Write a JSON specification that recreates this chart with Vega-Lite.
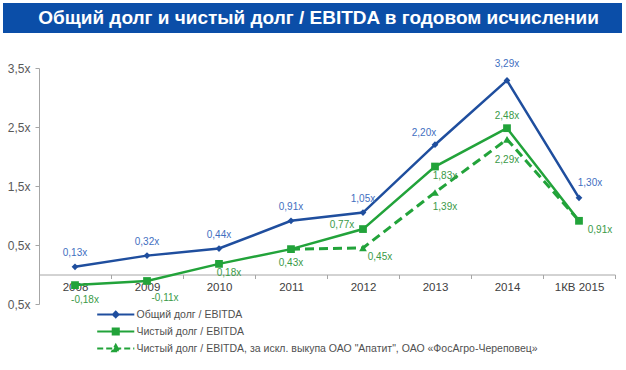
{
  "$schema": "https://vega.github.io/schema/vega-lite/v6.json",
  "padding": {"left": 3, "top": 3, "right": 4, "bottom": 0},
  "spacing": 26,
  "config": {
    "font": "Liberation Sans",
    "view": {"stroke": null},
    "locale": {"number": {"decimal": ",", "thousands": " ", "grouping": [3], "currency": ["", "x"], "minus": "-"}}
  },
  "vconcat": [
    {
      "width": 619,
      "height": 30,
      "view": {"fill": "#0b4ea8", "stroke": null},
      "data": {"values": [{"t": "Общий долг и чистый долг /  EBITDA в годовом исчислении"}]},
      "mark": {"type": "text", "color": "#ffffff", "fontSize": 19, "fontWeight": "bold", "font": "Liberation Sans", "dx": 6},
      "encoding": {"text": {"field": "t", "type": "nominal"}}
    },
    {
      "width": 612,
      "height": 236,
      "data": {"values": [
        {"year": "2008", "s": "Общий долг / EBITDA", "v": 0.13},
        {"year": "2009", "s": "Общий долг / EBITDA", "v": 0.32},
        {"year": "2010", "s": "Общий долг / EBITDA", "v": 0.44},
        {"year": "2011", "s": "Общий долг / EBITDA", "v": 0.91},
        {"year": "2012", "s": "Общий долг / EBITDA", "v": 1.05},
        {"year": "2013", "s": "Общий долг / EBITDA", "v": 2.20},
        {"year": "2014", "s": "Общий долг / EBITDA", "v": 3.29},
        {"year": "1КВ 2015", "s": "Общий долг / EBITDA", "v": 1.30},
        {"year": "2008", "s": "Чистый долг / EBITDA", "v": -0.18},
        {"year": "2009", "s": "Чистый долг / EBITDA", "v": -0.11},
        {"year": "2010", "s": "Чистый долг / EBITDA", "v": 0.18},
        {"year": "2011", "s": "Чистый долг / EBITDA", "v": 0.43},
        {"year": "2012", "s": "Чистый долг / EBITDA", "v": 0.77},
        {"year": "2013", "s": "Чистый долг / EBITDA", "v": 1.83},
        {"year": "2014", "s": "Чистый долг / EBITDA", "v": 2.48},
        {"year": "1КВ 2015", "s": "Чистый долг / EBITDA", "v": 0.91},
        {"year": "2011", "s": "Чистый долг / EBITDA, за искл. выкупа ОАО \"Апатит\", ОАО «ФосАгро-Череповец»", "v": 0.43},
        {"year": "2012", "s": "Чистый долг / EBITDA, за искл. выкупа ОАО \"Апатит\", ОАО «ФосАгро-Череповец»", "v": 0.45},
        {"year": "2013", "s": "Чистый долг / EBITDA, за искл. выкупа ОАО \"Апатит\", ОАО «ФосАгро-Череповец»", "v": 1.39},
        {"year": "2014", "s": "Чистый долг / EBITDA, за искл. выкупа ОАО \"Апатит\", ОАО «ФосАгро-Череповец»", "v": 2.29},
        {"year": "1КВ 2015", "s": "Чистый долг / EBITDA, за искл. выкупа ОАО \"Апатит\", ОАО «ФосАгро-Череповец»", "v": 0.91}
      ]},
      "encoding": {
        "x": {
          "field": "year", "type": "nominal",
          "sort": ["2008", "2009", "2010", "2011", "2012", "2013", "2014", "1КВ 2015"],
          "scale": {"type": "band", "paddingInner": 0, "paddingOuter": 0, "range": [36, 612]},
          "axis": {"title": null, "offset": -29.5, "tickBand": "extent", "domainColor": "#a6a6a6", "tickColor": "#a6a6a6", "tickSize": 4, "labelPadding": 3, "labelFontSize": 11.5, "labelColor": "#404040", "labelAngle": 0, "grid": false}
        },
        "y": {
          "field": "v", "type": "quantitative",
          "scale": {"domain": [-0.5, 3.5], "nice": false, "zero": false},
          "axis": {"title": null, "offset": -36, "values": [-0.5, 0.5, 1.5, 2.5, 3.5], "labelExpr": "replace(format(abs(datum.value), '.1f'), '.', ',') + 'x'", "domainColor": "#a6a6a6", "tickColor": "#a6a6a6", "tickSize": 4, "labelPadding": 5, "labelFontSize": 12, "labelColor": "#595959", "grid": false}
        }
      },
      "layer": [
        {"transform": [{"filter": {"field": "s", "equal": "Общий долг / EBITDA"}}],
         "mark": {"type": "line", "color": "#1f4e9e", "strokeWidth": 2.5}},
        {"transform": [{"filter": {"field": "s", "equal": "Чистый долг / EBITDA"}}],
         "mark": {"type": "line", "color": "#22a33a", "strokeWidth": 2.5}},
        {"transform": [{"filter": {"field": "s", "equal": "Чистый долг / EBITDA, за искл. выкупа ОАО \"Апатит\", ОАО «ФосАгро-Череповец»"}}],
         "mark": {"type": "line", "color": "#22a33a", "strokeWidth": 3, "strokeDash": [9, 5]}},
        {"transform": [{"filter": {"field": "s", "equal": "Общий долг / EBITDA"}}],
         "mark": {"type": "point", "shape": "diamond", "filled": true, "color": "#1f4e9e", "size": 45, "opacity": 1}},
        {"transform": [{"filter": {"and": [{"field": "s", "equal": "Чистый долг / EBITDA, за искл. выкупа ОАО \"Апатит\", ОАО «ФосАгро-Череповец»"}, {"field": "year", "oneOf": ["2012", "2013", "2014"]}]}}],
         "mark": {"type": "point", "shape": "triangle-up", "filled": true, "color": "#22a33a", "size": 60, "opacity": 1}},
        {"transform": [{"filter": {"field": "s", "equal": "Чистый долг / EBITDA"}}],
         "mark": {"type": "point", "shape": "square", "filled": true, "color": "#22a33a", "size": 60, "opacity": 1}},
        {"transform": [{"filter": "datum.v > 99"}],
         "mark": {"type": "point", "filled": true, "opacity": 1, "strokeWidth": 2.5},
         "encoding": {
           "color": {"field": "s", "type": "nominal",
             "scale": {"domain": ["Общий долг / EBITDA", "Чистый долг / EBITDA", "Чистый долг / EBITDA, за искл. выкупа ОАО \"Апатит\", ОАО «ФосАгро-Череповец»"], "range": ["#1f4e9e", "#22a33a", "#22a33a"]},
             "legend": {"title": null, "orient": "none", "legendX": 104.25, "legendY": 303, "symbolSize": 196, "symbolStrokeWidth": 2.2, "labelOffset": 12.25, "labelFontSize": 10.5, "labelColor": "#505050", "labelLimit": 600, "rowPadding": 1, "padding": 0}},
           "stroke": {"field": "s", "type": "nominal",
             "scale": {"domain": ["Общий долг / EBITDA", "Чистый долг / EBITDA", "Чистый долг / EBITDA, за искл. выкупа ОАО \"Апатит\", ОАО «ФосАгро-Череповец»"], "range": ["#1f4e9e", "#22a33a", "#22a33a"]},
             "legend": {"title": null, "orient": "none", "legendX": 104.25, "legendY": 303, "symbolSize": 196, "symbolStrokeWidth": 2.2, "labelOffset": 12.25, "labelFontSize": 10.5, "labelColor": "#505050", "labelLimit": 600, "rowPadding": 1, "padding": 0}},
           "shape": {"field": "s", "type": "nominal",
             "scale": {"domain": ["Общий долг / EBITDA", "Чистый долг / EBITDA", "Чистый долг / EBITDA, за искл. выкупа ОАО \"Апатит\", ОАО «ФосАгро-Череповец»"], "range": ["M-2.65,0H2.65M0,-0.38L0.38,0L0,0.38L-0.38,0Z", "M-2.65,0H2.65M-0.42,-0.42H0.42V0.42H-0.42Z", "M-2.65,0H2.65M0,-0.5L0.48,0.38H-0.48Z"]},
             "legend": {"title": null, "orient": "none", "legendX": 104.25, "legendY": 303, "symbolSize": 196, "symbolStrokeWidth": 2.2, "labelOffset": 12.25, "labelFontSize": 10.5, "labelColor": "#505050", "labelLimit": 600, "rowPadding": 1, "padding": 0}},
           "strokeDash": {"field": "s", "type": "nominal",
             "scale": {"domain": ["Общий долг / EBITDA", "Чистый долг / EBITDA", "Чистый долг / EBITDA, за искл. выкупа ОАО \"Апатит\", ОАО «ФосАгро-Череповец»"], "range": [[1, 0], [1, 0], [6, 3]]},
             "legend": {"title": null, "orient": "none", "legendX": 104.25, "legendY": 303, "symbolSize": 196, "symbolStrokeWidth": 2.2, "labelOffset": 12.25, "labelFontSize": 10.5, "labelColor": "#505050", "labelLimit": 600, "rowPadding": 1, "padding": 0}}
         }},
        {"transform": [{"filter": {"and": [{"field": "s", "equal": "Общий долг / EBITDA"}, {"field": "year", "oneOf": ["2008", "2009", "2010", "2011", "2012"]}]}}],
         "mark": {"type": "text", "color": "#3f6fbf", "fontSize": 10, "dy": -14},
         "encoding": {"text": {"field": "v", "type": "quantitative", "format": "$.2f"}}},
        {"transform": [{"filter": {"and": [{"field": "s", "equal": "Общий долг / EBITDA"}, {"field": "year", "equal": "2014"}]}}],
         "mark": {"type": "text", "color": "#3f6fbf", "fontSize": 10, "dy": -16},
         "encoding": {"text": {"field": "v", "type": "quantitative", "format": "$.2f"}}},
        {"transform": [{"filter": {"and": [{"field": "s", "equal": "Общий долг / EBITDA"}, {"field": "year", "equal": "2013"}]}}],
         "mark": {"type": "text", "color": "#3f6fbf", "fontSize": 10, "dx": -11, "dy": -12},
         "encoding": {"text": {"field": "v", "type": "quantitative", "format": "$.2f"}}},
        {"transform": [{"filter": {"and": [{"field": "s", "equal": "Общий долг / EBITDA"}, {"field": "year", "equal": "1КВ 2015"}]}}],
         "mark": {"type": "text", "color": "#3f6fbf", "fontSize": 10, "dx": 11, "dy": -15},
         "encoding": {"text": {"field": "v", "type": "quantitative", "format": "$.2f"}}},
        {"transform": [{"filter": {"and": [{"field": "s", "equal": "Чистый долг / EBITDA"}, {"field": "year", "equal": "2014"}]}}],
         "mark": {"type": "text", "color": "#3a9a48", "fontSize": 10, "dy": -12},
         "encoding": {"text": {"field": "v", "type": "quantitative", "format": "$.2f"}}},
        {"transform": [{"filter": {"or": [{"and": [{"field": "s", "equal": "Чистый долг / EBITDA"}, {"field": "year", "equal": "2008"}]}, {"and": [{"field": "s", "equal": "Чистый долг / EBITDA, за искл. выкупа ОАО \"Апатит\", ОАО «ФосАгро-Череповец»"}, {"field": "year", "equal": "2013"}]}]}}],
         "mark": {"type": "text", "color": "#3a9a48", "fontSize": 10, "dx": 10, "dy": 15},
         "encoding": {"text": {"field": "v", "type": "quantitative", "format": "$.2f"}}},
        {"transform": [{"filter": {"and": [{"field": "s", "equal": "Чистый долг / EBITDA"}, {"field": "year", "equal": "2009"}]}}],
         "mark": {"type": "text", "color": "#3a9a48", "fontSize": 10, "dx": 18, "dy": 17},
         "encoding": {"text": {"field": "v", "type": "quantitative", "format": "$.2f"}}},
        {"transform": [{"filter": {"and": [{"field": "s", "equal": "Чистый долг / EBITDA"}, {"field": "year", "oneOf": ["2010", "2013"]}]}}],
         "mark": {"type": "text", "color": "#3a9a48", "fontSize": 10, "dx": 10, "dy": 9},
         "encoding": {"text": {"field": "v", "type": "quantitative", "format": "$.2f"}}},
        {"transform": [{"filter": {"and": [{"field": "s", "equal": "Чистый долг / EBITDA, за искл. выкупа ОАО \"Апатит\", ОАО «ФосАгро-Череповец»"}, {"field": "year", "equal": "2012"}]}}],
         "mark": {"type": "text", "color": "#3a9a48", "fontSize": 10, "dx": 17, "dy": 9},
         "encoding": {"text": {"field": "v", "type": "quantitative", "format": "$.2f"}}},
        {"transform": [{"filter": {"and": [{"field": "s", "equal": "Чистый долг / EBITDA"}, {"field": "year", "equal": "1КВ 2015"}]}}],
         "mark": {"type": "text", "color": "#3a9a48", "fontSize": 10, "dx": 21, "dy": 9},
         "encoding": {"text": {"field": "v", "type": "quantitative", "format": "$.2f"}}},
        {"transform": [{"filter": {"and": [{"field": "s", "equal": "Чистый долг / EBITDA"}, {"field": "year", "equal": "2011"}]}}],
         "mark": {"type": "text", "color": "#3a9a48", "fontSize": 10, "dy": 14},
         "encoding": {"text": {"field": "v", "type": "quantitative", "format": "$.2f"}}},
        {"transform": [{"filter": {"and": [{"field": "s", "equal": "Чистый долг / EBITDA, за искл. выкупа ОАО \"Апатит\", ОАО «ФосАгро-Череповец»"}, {"field": "year", "equal": "2014"}]}}],
         "mark": {"type": "text", "color": "#3a9a48", "fontSize": 10, "dy": 21},
         "encoding": {"text": {"field": "v", "type": "quantitative", "format": "$.2f"}}},
        {"transform": [{"filter": {"and": [{"field": "s", "equal": "Чистый долг / EBITDA"}, {"field": "year", "equal": "2012"}]}}],
         "mark": {"type": "text", "color": "#3a9a48", "fontSize": 10, "dx": -21, "dy": -4},
         "encoding": {"text": {"field": "v", "type": "quantitative", "format": "$.2f"}}}
      ]
    }
  ]
}
